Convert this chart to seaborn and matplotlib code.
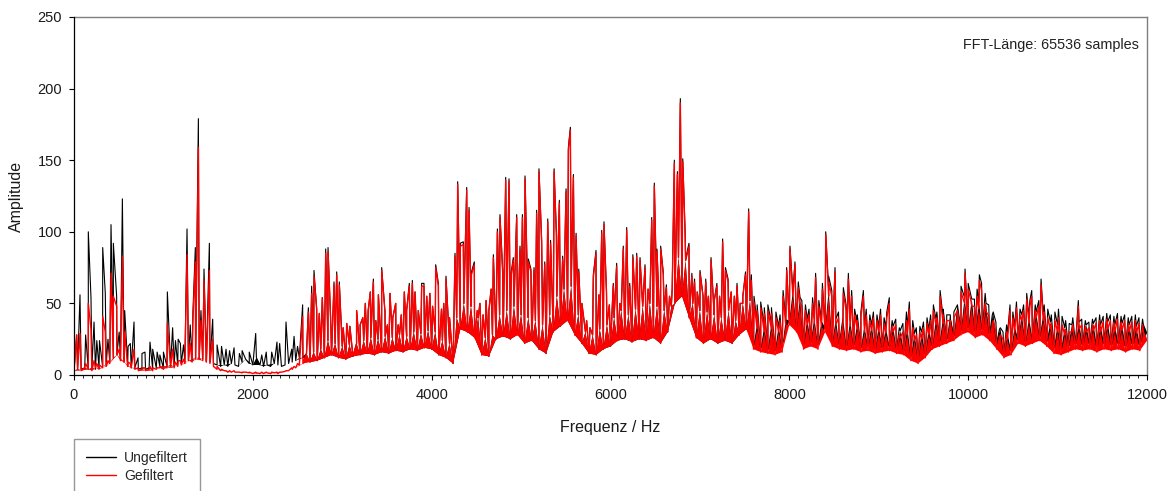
import numpy as np
import pandas as pd
import matplotlib
matplotlib.use("Agg")
import matplotlib.pyplot as plt
import seaborn as sns
from matplotlib.lines import Line2D
from matplotlib.ticker import MultipleLocator

# ---------------- data ----------------
series_names = ["Ungefiltert", "Gefiltert"]
series_colors = ["#000000", "#ff0000"]
annotation = "FFT-Länge: 65536 samples"
x_label = "Frequenz / Hz"
y_label = "Amplitude"
x_ticks = [0, 2000, 4000, 6000, 8000, 10000, 12000]
y_ticks = [0, 50, 100, 150, 200, 250]

# FFT bin grid used for the spectrum floor (Hz); even bins sit on the lower
# edge of the dense noise floor, odd bins on its upper edge
grid_step = 40
freq_grid = np.arange(0, 12001, grid_step)

# spectrum floor on the 40 Hz grid, Ungefiltert
base_ungef = [
    3, 4, 4, 5, 4, 5, 4, 5, 6, 7,
    9, 12, 14, 11, 9, 7, 5, 5, 4, 5,
    4, 5, 4, 5, 6, 5, 6, 7, 6, 7,
    8, 9, 10, 10, 12, 12, 11, 10, 9, 8,
    7, 6, 7, 6, 8, 7, 6, 9, 11, 8,
    7, 12, 7, 6, 7, 6, 8, 7, 6, 7,
    8, 9, 10, 12, 12, 15, 9, 16, 10, 18,
    12, 24, 14, 22, 12, 20, 11, 21, 13, 22,
    14, 24, 15, 26, 14, 25, 16, 27, 15, 26,
    17, 28, 16, 27, 18, 30, 17, 29, 19, 31,
    18, 30, 14, 24, 12, 22, 8, 40, 32, 50,
    30, 48, 26, 40, 14, 26, 13, 28, 25, 42,
    27, 45, 25, 48, 28, 42, 22, 40, 24, 38,
    18, 35, 15, 42, 30, 55, 34, 60, 38, 62,
    28, 42, 22, 30, 15, 28, 14, 32, 18, 35,
    20, 40, 24, 45, 25, 42, 23, 46, 25, 48,
    24, 50, 26, 48, 22, 45, 30, 48, 50, 82,
    55, 80, 40, 50, 26, 45, 22, 44, 25, 42,
    22, 40, 24, 45, 22, 38, 28, 50, 32, 52,
    21, 36, 19, 34, 18, 36, 17, 34, 19, 39,
    38, 59, 33, 54, 21, 39, 23, 40, 21, 38,
    33, 59, 23, 39, 21, 40, 20, 38, 21, 36,
    19, 34, 20, 35, 18, 34, 19, 33, 20, 34,
    18, 31, 17, 33, 13, 29, 11, 30, 15, 32,
    21, 39, 23, 40, 25, 42, 27, 49, 31, 54,
    33, 53, 30, 51, 32, 50, 28, 44, 22, 33,
    15, 29, 17, 34, 25, 42, 23, 40, 25, 44,
    27, 42, 24, 37, 19, 35, 18, 33, 20, 35,
    22, 37, 21, 35, 22, 36, 20, 35, 22, 37,
    21, 35, 22, 36, 20, 35, 22, 34, 21, 35, 29,
]

# spectrum floor on the 40 Hz grid, Gefiltert
base_gef = [
    3, 4, 3, 5, 4, 3, 5, 4, 5, 6,
    8, 12, 14, 10, 9, 6, 5, 4, 3, 4,
    3, 4, 3, 4, 5, 4, 5, 6, 5, 6,
    7, 8, 10, 9, 11, 12, 10, 9, 8, 6,
    4, 3, 3, 2, 2, 2, 2, 1.5, 2, 1.5,
    1, 1.5, 1, 1, 1.5, 1, 1.5, 1, 2, 2.5,
    3, 4, 5, 7, 8, 15, 9, 16, 10, 18,
    12, 24, 14, 22, 12, 20, 11, 21, 13, 22,
    14, 24, 15, 26, 14, 25, 16, 27, 15, 26,
    17, 28, 16, 27, 18, 30, 17, 29, 19, 31,
    18, 30, 14, 24, 12, 22, 8, 40, 32, 50,
    30, 48, 26, 40, 14, 26, 13, 28, 25, 42,
    27, 45, 25, 48, 28, 42, 22, 40, 24, 38,
    18, 35, 15, 42, 30, 55, 34, 60, 38, 62,
    28, 42, 22, 30, 15, 28, 14, 32, 18, 35,
    20, 40, 24, 45, 25, 42, 23, 46, 25, 48,
    24, 50, 26, 48, 22, 45, 30, 48, 50, 82,
    55, 80, 40, 50, 26, 45, 22, 44, 25, 42,
    22, 40, 24, 45, 22, 38, 28, 50, 32, 52,
    18, 32, 16, 30, 15, 32, 14, 30, 16, 35,
    35, 55, 30, 50, 18, 35, 20, 36, 18, 34,
    30, 55, 20, 35, 18, 36, 17, 34, 18, 32,
    16, 30, 17, 31, 15, 30, 16, 29, 17, 30,
    15, 26, 14, 28, 10, 24, 8, 25, 12, 28,
    18, 35, 20, 36, 22, 38, 24, 45, 28, 50,
    30, 48, 26, 46, 28, 44, 24, 38, 18, 28,
    12, 25, 14, 30, 22, 38, 20, 36, 22, 40,
    24, 38, 20, 32, 15, 30, 14, 28, 16, 30,
    18, 32, 17, 30, 18, 31, 16, 30, 18, 32,
    17, 30, 18, 31, 16, 30, 18, 29, 17, 30, 24,
]

# spectral lines 0 - 2500 Hz
pk_freq_a = [30, 67, 130, 160, 190, 224, 255, 285, 321, 350, 380, 414, 440, 477, 505,
             541, 567, 605, 630, 671, 716, 760, 794, 850, 880, 930, 960, 1000, 1044, 1103,
             1135, 1165, 1190, 1225, 1264, 1300, 1330, 1357, 1391, 1420, 1454, 1485, 1514, 1551, 1600,
             1650, 1700, 1740, 1790, 1850, 1880, 1960, 2032, 2100, 2150, 2211, 2270, 2300, 2371, 2435,
             2461, 2500]
pk_ungef_a = [28, 56, 28, 100, 54, 37, 24, 24, 89, 57, 25, 105, 92, 55, 30,
              123, 45, 20, 22, 37, 12, 15, 16, 23, 18, 16, 14, 16, 58, 33,
              24, 25, 22, 21, 102, 35, 44, 89, 179, 45, 74, 21, 92, 39, 21,
              20, 18, 17, 19, 15, 17, 16, 29, 14, 16, 16, 23, 22, 37, 18,
              27, 20]
pk_gef_a = [28, 29, 8, 50, 32, 10, 8, 7, 41, 30, 10, 71, 55, 48, 18,
            83, 30, 9, 8, 18, 5, 5, 5, 6, 5, 5, 6, 6, 36, 18,
            9, 10, 10, 11, 84, 22, 38, 79, 159, 38, 66, 15, 73, 25, 6,
            4, 3, 3, 3, 2, 2, 2, 2, 2, 2, 2, 2, 2, 3, 5,
            6, 8]

# spectral lines 2500 - 4300 Hz
pk_freq_b = [2557, 2621, 2658, 2684, 2714, 2743, 2777, 2815, 2841, 2873, 2908, 2938, 2967, 3010, 3050,
             3085, 3161, 3200, 3230, 3258, 3290, 3314, 3348, 3375, 3404, 3441, 3478, 3505, 3534, 3565,
             3598, 3625, 3660, 3694, 3720, 3750, 3784, 3814, 3850, 3888, 3914, 3945, 3980, 4010, 4045,
             4075, 4110, 4135, 4160, 4200, 4261, 4291]
pk_ungef_b = [49, 47, 62, 73, 46, 43, 54, 88, 89, 34, 65, 72, 65, 33, 36,
              34, 45, 35, 40, 50, 45, 58, 67, 38, 56, 75, 44, 35, 57, 40,
              50, 35, 42, 58, 45, 64, 66, 58, 45, 64, 64, 55, 57, 48, 77,
              64, 46, 50, 69, 40, 85, 135]
pk_gef_b = [41, 44, 57, 69, 46, 43, 54, 85, 86, 34, 63, 70, 63, 33, 36,
            34, 45, 35, 40, 50, 45, 58, 65, 38, 56, 73, 44, 35, 57, 40,
            50, 35, 42, 58, 45, 62, 64, 58, 45, 62, 62, 55, 57, 48, 75,
            62, 46, 50, 67, 40, 83, 133]

# spectral lines 4300 - 6350 Hz
pk_freq_c = [4320, 4354, 4392, 4418, 4445, 4477, 4510, 4540, 4575, 4608, 4640, 4665, 4690, 4735, 4764,
             4795, 4828, 4865, 4890, 4913, 4951, 4988, 5015, 5044, 5081, 5110, 5145, 5174, 5200, 5230,
             5265, 5298, 5330, 5369, 5395, 5428, 5465, 5503, 5529, 5551, 5585, 5615, 5645, 5680, 5733,
             5770, 5808, 5838, 5870, 5902, 5927, 5955, 5987, 6031, 6069, 6105, 6143, 6181, 6215, 6250,
             6293, 6330]
pk_ungef_c = [92, 93, 131, 117, 72, 79, 45, 50, 42, 52, 45, 60, 84, 102, 112,
              72, 138, 137, 72, 82, 112, 90, 112, 139, 81, 74, 75, 115, 144, 94,
              79, 109, 94, 144, 99, 122, 83, 130, 159, 173, 140, 99, 74, 50, 38,
              33, 70, 87, 56, 101, 107, 58, 49, 64, 78, 50, 90, 103, 64, 84,
              85, 82]
pk_gef_c = [90, 91, 129, 115, 70, 77, 45, 50, 42, 52, 45, 60, 82, 100, 110,
            70, 136, 135, 70, 80, 110, 88, 110, 137, 79, 72, 73, 113, 142, 92,
            77, 107, 92, 142, 97, 120, 81, 128, 157, 171, 138, 97, 72, 50, 38,
            33, 68, 85, 56, 99, 105, 58, 49, 62, 76, 50, 88, 101, 62, 82,
            83, 80]

# spectral lines 6350 - 8520 Hz
pk_freq_d = [6386, 6420, 6461, 6490, 6520, 6561, 6590, 6625, 6660, 6690, 6714, 6748, 6781, 6808, 6834,
             6860, 6878, 6910, 6940, 6970, 7001, 7035, 7065, 7095, 7124, 7160, 7190, 7220, 7254, 7285,
             7315, 7350, 7385, 7415, 7450, 7480, 7510, 7545, 7575, 7605, 7640, 7680, 7720, 7760, 7800,
             7850, 7896, 7930, 7970, 8007, 8035, 8063, 8100, 8140, 8180, 8220, 8260, 8294, 8330, 8370,
             8407, 8440, 8475, 8511]
pk_ungef_d = [77, 60, 110, 134, 88, 90, 72, 63, 55, 60, 150, 142, 193, 151, 101,
              87, 92, 71, 67, 58, 73, 55, 67, 55, 82, 52, 64, 55, 95, 75,
              67, 58, 55, 64, 50, 55, 72, 116, 70, 55, 49, 51, 47, 49, 47,
              44, 42, 59, 75, 90, 64, 79, 65, 52, 49, 46, 54, 71, 52, 64,
              100, 69, 59, 75]
pk_gef_d = [75, 60, 108, 132, 86, 88, 70, 61, 55, 60, 148, 140, 190, 149, 99,
            85, 90, 69, 65, 58, 71, 55, 65, 55, 80, 52, 62, 55, 93, 73,
            65, 58, 55, 62, 50, 55, 70, 114, 66, 51, 45, 47, 43, 45, 43,
            40, 38, 55, 73, 88, 60, 77, 61, 48, 45, 42, 50, 68, 48, 60,
            98, 65, 55, 72]

# spectral lines 8520 - 12000 Hz
pk_freq_e = [8550, 8604, 8635, 8660, 8697, 8730, 8760, 8800, 8828, 8860, 8900, 8940, 8980, 9020, 9060,
             9090, 9118, 9150, 9190, 9230, 9270, 9310, 9342, 9380, 9420, 9460, 9500, 9540, 9580, 9611,
             9650, 9686, 9720, 9760, 9800, 9840, 9880, 9920, 9965, 10000, 10030, 10070, 10100, 10125, 10150,
             10190, 10230, 10270, 10310, 10350, 10390, 10430, 10468, 10500, 10540, 10580, 10620, 10655, 10690, 10711,
             10750, 10790, 10815, 10850, 10890, 10930, 10970, 11010, 11050, 11090, 11130, 11170, 11232, 11270, 11310,
             11350, 11390, 11430, 11470, 11510, 11550, 11590, 11630, 11670, 11710, 11750, 11790, 11830, 11870, 11910,
             11950]
pk_ungef_e = [44, 61, 49, 71, 59, 46, 42, 44, 59, 46, 42, 44, 42, 46, 40,
              44, 54, 38, 39, 33, 36, 44, 51, 38, 33, 34, 37, 40, 42, 49,
              44, 59, 46, 42, 39, 44, 49, 62, 74, 64, 56, 53, 60, 70, 64,
              57, 49, 42, 37, 32, 30, 35, 49, 44, 51, 46, 49, 57, 52, 59,
              49, 52, 67, 49, 46, 42, 44, 46, 41, 38, 36, 40, 52, 39, 38,
              37, 39, 40, 42, 41, 43, 42, 41, 43, 41, 42, 40, 41, 42, 40,
              39]
pk_gef_e = [40, 57, 45, 67, 55, 42, 38, 40, 55, 42, 38, 40, 38, 42, 36,
            40, 50, 34, 35, 28, 30, 38, 46, 33, 28, 30, 33, 36, 38, 45,
            40, 55, 42, 38, 35, 40, 45, 58, 71, 60, 52, 48, 55, 66, 59,
            50, 42, 35, 30, 26, 25, 30, 45, 40, 47, 42, 45, 53, 48, 55,
            45, 48, 63, 44, 40, 36, 38, 40, 35, 32, 30, 35, 48, 35, 34,
            33, 35, 36, 38, 37, 39, 38, 37, 39, 37, 38, 36, 37, 38, 36,
            35]

# ---------------- assemble ----------------
assert len(base_ungef) == len(freq_grid) and len(base_gef) == len(freq_grid)
pk_freq = pk_freq_a + pk_freq_b + pk_freq_c + pk_freq_d + pk_freq_e
pk_ungef = pk_ungef_a + pk_ungef_b + pk_ungef_c + pk_ungef_d + pk_ungef_e
pk_gef = pk_gef_a + pk_gef_b + pk_gef_c + pk_gef_d + pk_gef_e
assert len(pk_freq) == len(pk_ungef) == len(pk_gef)


def spectrum(base, peaks):
    f = np.concatenate([freq_grid, np.asarray(pk_freq, float)])
    a = np.concatenate([np.asarray(base, float), np.asarray(peaks, float)])
    order = np.argsort(f, kind="stable")
    return f[order], a[order]


frames = {}
for name, base, peaks in [(series_names[0], base_ungef, pk_ungef),
                          (series_names[1], base_gef, pk_gef)]:
    f, a = spectrum(base, peaks)
    frames[name] = pd.DataFrame({"Frequenz": f, "Amplitude": a, "Serie": name})

# ---------------- plot ----------------
sns.set_theme(style="ticks")
plt.rcParams["font.family"] = ["Liberation Sans", "DejaVu Sans"]

fig = plt.figure(figsize=(11.73, 4.91), dpi=100)
ax = fig.add_axes([74 / 1173, 1 - 375 / 491, (1147 - 74) / 1173, (375 - 17) / 491])

z = 1
for name, base, color, lw in [(series_names[0], base_ungef, series_colors[0], 0.8),
                              (series_names[1], base_gef, series_colors[1], 1.0)]:
    b = np.asarray(base, float)
    # dense noise floor: region between the floor zig-zag and its lower-edge bins
    ax.fill(np.concatenate([freq_grid, freq_grid[0::2][::-1]]),
            np.concatenate([b, b[0::2][::-1]]),
            color=color, lw=0, zorder=z)
    sns.lineplot(data=frames[name], x="Frequenz", y="Amplitude", color=color,
                 estimator=None, sort=False, linewidth=lw, legend=False, ax=ax,
                 zorder=z + 1)
    z += 2

ax.set_xlim(0, 12000)
ax.set_ylim(0, 250)
ax.set_xticks(x_ticks)
ax.set_yticks(y_ticks)
ax.xaxis.set_minor_locator(MultipleLocator(100))
ax.tick_params(axis="both", which="major", direction="out", length=3.6, width=0.8,
               color="black", labelsize=10.5, labelcolor="#1a1a1a")
ax.tick_params(axis="x", which="major", pad=6)
ax.tick_params(axis="y", which="major", pad=5)
ax.tick_params(axis="x", which="minor", direction="out", length=2.2, width=0.6, color="black")
ax.tick_params(axis="y", which="minor", left=False)

for side in ["left", "bottom"]:
    ax.spines[side].set_color("black")
    ax.spines[side].set_linewidth(0.9)
    ax.spines[side].set_zorder(10)
for side in ["top", "right"]:
    ax.spines[side].set_visible(True)
    ax.spines[side].set_color("#7f7f7f")
    ax.spines[side].set_linewidth(1.0)

ax.set_xlabel(x_label, fontsize=11.5, color="#1a1a1a")
ax.set_ylabel(y_label, fontsize=11.5, color="#1a1a1a")
ax.xaxis.set_label_coords(0.5, -0.125)
ax.yaxis.set_label_coords(-0.047, 0.5)

ax.text(0.992, 0.922, annotation, transform=ax.transAxes, ha="right", va="center",
        fontsize=10.4, color="#222222")

handles = [Line2D([0], [0], color=c, lw=1.0) for c in series_colors]
leg = fig.legend(handles, series_names, loc="upper left",
                 bbox_to_anchor=(74 / 1173, 1 - 439 / 491), bbox_transform=fig.transFigure,
                 fontsize=10, frameon=True, fancybox=False, handlelength=2.2,
                 handletextpad=0.55, borderpad=0.85, labelspacing=0.3, borderaxespad=0)
leg.get_frame().set_edgecolor("#7f7f7f")
leg.get_frame().set_linewidth(1.0)
leg.get_frame().set_facecolor("white")

fig.savefig("out.png", dpi=100)
